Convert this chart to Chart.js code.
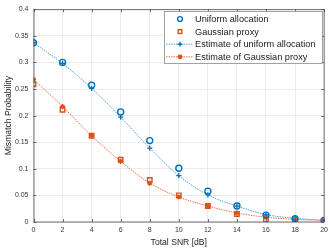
<!DOCTYPE html>
<html>
<head>
<meta charset="utf-8">
<script src="https://cdn.jsdelivr.net/npm/chart.js@4.4.0/dist/chart.umd.min.js"></script>
<style>
  html, body { margin: 0; padding: 0; background: #fff; overflow: hidden; }
  #wrap { width: 332px; height: 249px; position: relative; }
  canvas { display: block; }
</style>
</head>
<body>
<div id="wrap"><canvas id="c" width="332" height="249"></canvas></div>
<script>
// SNR values and probabilities
const snr = [0, 2, 4, 6, 8, 10, 12, 14, 16, 18, 20];
const uniformAlloc = [0.337, 0.300, 0.257, 0.207, 0.153, 0.101, 0.058, 0.030, 0.013, 0.006, 0.003];
const gaussianProxy = [0.259, 0.211, 0.162, 0.117, 0.079, 0.050, 0.030, 0.015, 0.005, 0.003, 0.002];
const estUniform = [0.337, 0.298, 0.251, 0.197, 0.139, 0.087, 0.051, 0.030, 0.014, 0.007, 0.003];
const estGaussian = [0.268, 0.217, 0.162, 0.114, 0.073, 0.047, 0.030, 0.017, 0.009, 0.005, 0.003];
const yTicks = [0, 0.05, 0.1, 0.15, 0.2, 0.25, 0.3, 0.35, 0.4];

const blue = '#0072BD';
const orange = '#D95319';
const blueLine = '#4DA6E0';
const orangeLine = '#EE7040';

const pts = arr => arr.map((v, i) => ({ x: snr[i], y: v }));

// legend drawn inside the plot, MATLAB style
const legendBox = {
    id: 'legendBox',
    afterDraw(chart) {
        const ctx = chart.ctx;
        const x0 = 164, y0 = 11, w = 158, h = 52;
        ctx.save();
        ctx.fillStyle = '#fff';
        ctx.fillRect(x0, y0, w, h);
        ctx.strokeStyle = '#8c8c8c';
        ctx.lineWidth = 0.8;
        ctx.strokeRect(x0 + 0.5, y0 + 0.5, w, h);
        const rows = [
            { label: 'Uniform allocation', color: blue, style: 'circle', line: false },
            { label: 'Gaussian proxy', color: orange, style: 'rect', line: false },
            { label: 'Estimate of uniform allocation', color: blue, lc: blueLine, style: 'cross', line: true },
            { label: 'Estimate of Gaussian proxy', color: orange, lc: orangeLine, style: 'star', line: true }
        ];
        ctx.font = '9.2px "Liberation Sans", Arial, sans-serif';
        ctx.textBaseline = 'middle';
        rows.forEach((r, i) => {
            const yy = 19 + i * 12.6;
            if (r.line) {
                ctx.strokeStyle = r.lc;
                ctx.lineWidth = 1;
                ctx.setLineDash([1.5, 1]);
                ctx.beginPath();
                ctx.moveTo(x0 + 2, yy);
                ctx.lineTo(x0 + 29, yy);
                ctx.stroke();
                ctx.setLineDash([]);
            }
            ctx.strokeStyle = r.color;
            ctx.fillStyle = 'rgba(0,0,0,0)';
            ctx.lineWidth = 1.4;
            Chart.helpers.drawPoint(ctx, { pointStyle: r.style, radius: r.style === 'rect' ? 2.6 : 2.4, borderWidth: 1.4, rotation: 0 }, x0 + 16, yy);
            ctx.fillStyle = '#1a1a1a';
            ctx.fillText(r.label, x0 + 31, yy + 0.5);
        });
        ctx.restore();
    }
};

// top and right axis lines with inward ticks
const boxAxes = {
    id: 'boxAxes',
    afterDraw(chart) {
        const { ctx, chartArea: a, scales } = chart;
        ctx.save();
        ctx.strokeStyle = '#4d4d4d';
        ctx.lineWidth = 0.8;
        ctx.strokeRect(a.left + 0.5, a.top + 0.5, a.right - a.left - 0.5, a.bottom - a.top - 0.5);
        ctx.beginPath();
        snr.forEach(v => {
            const px = Math.round(scales.x.getPixelForValue(v)) + 0.5;
            ctx.moveTo(px, a.bottom); ctx.lineTo(px, a.bottom - 3);
            ctx.moveTo(px, a.top); ctx.lineTo(px, a.top + 3);
        });
        yTicks.forEach(v => {
            const py = Math.round(scales.y.getPixelForValue(v)) + 0.5;
            ctx.moveTo(a.left, py); ctx.lineTo(a.left + 3, py);
            ctx.moveTo(a.right, py); ctx.lineTo(a.right - 3, py);
        });
        ctx.stroke();
        ctx.restore();
    }
};

const tickFont = { family: '"Liberation Sans", Arial, sans-serif', size: 7 };
const titleFont = { family: '"Liberation Sans", Arial, sans-serif', size: 8.6 };

new Chart(document.getElementById('c'), {
    type: 'scatter',
    data: {
        datasets: [
            {
                label: 'Uniform allocation',
                data: pts(uniformAlloc),
                showLine: false,
                pointStyle: 'circle',
                pointRadius: 3,
                pointBorderWidth: 1.4,
                borderColor: blue,
                backgroundColor: 'rgba(0,0,0,0)'
            },
            {
                label: 'Gaussian proxy',
                data: pts(gaussianProxy),
                showLine: false,
                pointStyle: 'rect',
                pointRadius: 3.2,
                pointBorderWidth: 1.4,
                borderColor: orange,
                backgroundColor: 'rgba(0,0,0,0)'
            },
            {
                label: 'Estimate of uniform allocation',
                data: pts(estUniform),
                showLine: true,
                borderColor: blueLine,
                borderWidth: 1,
                borderDash: [1.5, 1],
                cubicInterpolationMode: 'monotone',
                pointStyle: 'cross',
                pointRadius: 2.6,
                pointBorderWidth: 1.3,
                pointBorderColor: blue,
                backgroundColor: 'rgba(0,0,0,0)'
            },
            {
                label: 'Estimate of Gaussian proxy',
                data: pts(estGaussian),
                showLine: true,
                borderColor: orangeLine,
                borderWidth: 1,
                borderDash: [1.5, 1],
                cubicInterpolationMode: 'monotone',
                pointStyle: 'star',
                pointRadius: 2.6,
                pointBorderWidth: 1.2,
                pointBorderColor: orange,
                backgroundColor: 'rgba(0,0,0,0)'
            }
        ]
    },
    options: {
        responsive: false,
        animation: false,
        devicePixelRatio: 1,
        layout: { padding: { top: 5, right: 5, left: 0, bottom: 0 } },
        plugins: {
            legend: { display: false },
            tooltip: { enabled: false }
        },
        scales: {
            x: {
                type: 'linear',
                min: 0,
                max: 20,
                afterBuildTicks: s => { s.ticks = snr.map(v => ({ value: v })); },
                ticks: { font: tickFont, color: '#333', padding: 4, maxRotation: 0 },
                grid: { color: '#e6e6e6', lineWidth: 0.8, drawTicks: false },
                border: { display: false },
                title: { display: true, text: 'Total SNR [dB]', font: titleFont, color: '#262626', padding: { top: 2, bottom: 1 } },
                afterFit: s => { s.height = 27; }
            },
            y: {
                type: 'linear',
                min: 0,
                max: 0.4,
                afterBuildTicks: s => { s.ticks = yTicks.map(v => ({ value: v })); },
                ticks: { font: tickFont, color: '#333', padding: 5, callback: v => String(+v.toFixed(2)) },
                grid: { color: '#e6e6e6', lineWidth: 0.8, drawTicks: false },
                border: { display: false },
                title: { display: true, text: 'Mismatch Probability', font: titleFont, color: '#262626', padding: { top: 3, bottom: 2 } },
                afterFit: s => { s.width = 33.5; }
            }
        }
    },
    plugins: [boxAxes, legendBox]
});
</script>
</body>
</html>
